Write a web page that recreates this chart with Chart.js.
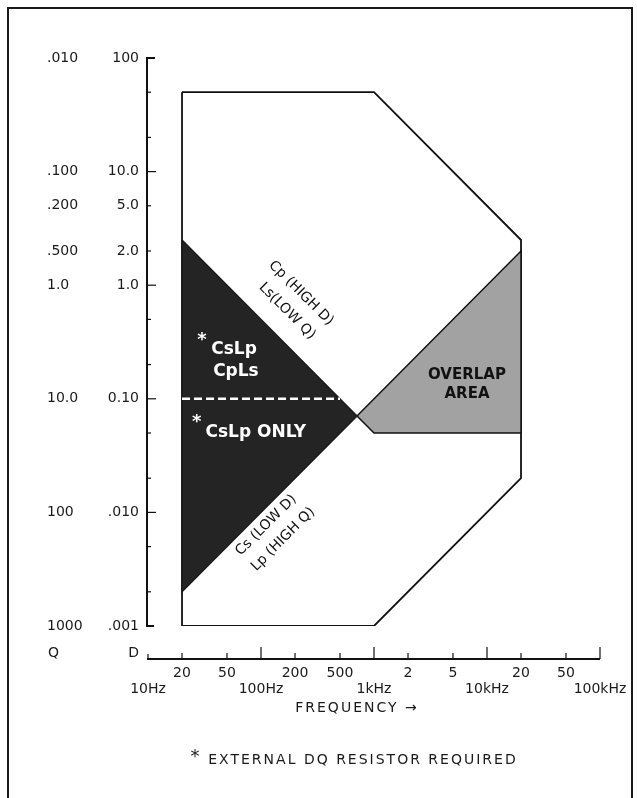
<!doctype html>
<html lang="en">
  <head>
    <meta charset="utf-8">
    <title>D / Q measurement range vs frequency</title>
    <style>
      * {
        margin: 0;
        padding: 0;
      }
      body {
        width: 637px;
        height: 798px;
        overflow: hidden;
        position: relative;
        background: #fff;
        font-family: 'DejaVu Sans', sans-serif;
      }
      .frame {
        position: absolute;
        left: 7px;
        top: 7px;
        width: 622px;
        height: 820px;
        border: 2px solid #1a1a1a;
        border-bottom: none;
      }
      .chartBox {
        position: absolute;
        left: 0;
        top: 0;
        width: 637px;
        height: 798px;
      }
    </style>
  </head>
  <body>
    <div class="frame"></div>
    <div class="chartBox">
      <canvas id="myChart"></canvas>
    </div>
    <script src="https://cdn.jsdelivr.net/npm/chart.js/dist/chart.umd.min.js"></script>
    <script>
    // frequency axis (Hz)
    const freqTicks = [10, 20, 50, 100, 200, 500, 1000, 2000, 5000, 10000, 20000, 50000, 100000];
    const freqLabels = [['', '10Hz'], '20', '50', ['', '100Hz'], '200', '500', ['', '1kHz'], '2', '5', ['', '10kHz'], '20', '50', ['', '100kHz']];

    // D axis and the matching Q column
    const dTicks = [100, 50, 20, 10, 5, 2, 1, 0.5, 0.2, 0.1, 0.05, 0.02, 0.01, 0.005, 0.002, 0.001];
    const dLabels = ['100', '', '', '10.0', '5.0', '2.0', '1.0', '', '', '0.10', '', '', '.010', '', '', '.001'];
    const qLabels = ['.010', '', '', '.100', '.200', '.500', '1.0', '', '', '10.0', '', '', '100', '', '', '1000'];

    // whole measurable range (freq Hz, D)
    const rangeFreq = [20, 1000, 20000, 20000, 1000, 20, 20];
    const rangeD = [50, 50, 2.5, 0.02, 0.001, 0.001, 50];

    // CsLp / CpLs region (external resistor)
    const seriesFreq = [20, 707, 20, 20];
    const seriesD = [2.5, 0.0707, 0.002, 2.5];

    // overlap area
    const overlapFreq = [707, 20000, 20000, 1000, 707];
    const overlapD = [0.0707, 2, 0.05, 0.05, 0.0707];

    // D = 0.10 split inside the left region
    const splitFreq = [20, 500];
    const splitD = [0.1, 0.1];

    const pts = (fs, ds) => fs.map((f, i) => ({x: f, y: ds[i]}));

    // text placed at (freq, D)
    const notes = [
      {text: '*', f: 30, d: 0.33, font: 'bold 18px "DejaVu Sans"', color: '#fff', rot: 0},
      {text: 'CsLp', f: 57.7, d: 0.272, font: 'bold 17px "DejaVu Sans"', color: '#fff', rot: 0},
      {text: 'CpLs', f: 60, d: 0.173, font: 'bold 17px "DejaVu Sans"', color: '#fff', rot: 0},
      {text: '*', f: 27, d: 0.062, font: 'bold 18px "DejaVu Sans"', color: '#fff', rot: 0},
      {text: 'CsLp ONLY', f: 90, d: 0.05, font: 'bold 17px "DejaVu Sans"', color: '#fff', rot: 0},
      {text: 'Cp (HIGH D)', f: 226, d: 0.85, font: '14px "DejaVu Sans"', color: '#111', rot: 45},
      {text: 'Ls(LOW Q)', f: 170, d: 0.59, font: '14px "DejaVu Sans"', color: '#111', rot: 45},
      {text: 'Cs (LOW D)', f: 111, d: 0.0077, font: '14px "DejaVu Sans"', color: '#111', rot: -45},
      {text: 'Lp (HIGH Q)', f: 157, d: 0.0058, font: '14px "DejaVu Sans"', color: '#111', rot: -45},
      {text: 'OVERLAP', f: 6650, d: 0.163, font: 'bold 15px "DejaVu Sans"', color: '#111', rot: 0},
      {text: 'AREA', f: 6650, d: 0.111, font: 'bold 15px "DejaVu Sans"', color: '#111', rot: 0}
    ];

    const tickFont = {family: 'DejaVu Sans', size: 14, lineHeight: 1.2};
    const isDecade = v => Math.abs(Math.log10(v) - Math.round(Math.log10(v))) < 1e-9;

    // axis lines with inward ticks, region labels, footnotes
    const decor = {
      id: 'decor',
      afterDatasetsDraw(chart) {
        const {ctx, scales: {x, y, q}} = chart;
        ctx.save();
        ctx.textAlign = 'center';
        ctx.textBaseline = 'middle';
        notes.forEach(n => {
          ctx.save();
          ctx.translate(x.getPixelForValue(n.f), y.getPixelForValue(n.d));
          ctx.rotate(n.rot * Math.PI / 180);
          ctx.font = n.font;
          ctx.fillStyle = n.color;
          ctx.fillText(n.text, 0, 0);
          ctx.restore();
        });

        const x0 = x.getPixelForValue(freqTicks[0]) - 1;
        const x1 = x.getPixelForValue(freqTicks[freqTicks.length - 1]);
        const yTop = y.getPixelForValue(dTicks[0]);
        const yBot = y.getPixelForValue(dTicks[dTicks.length - 1]);
        ctx.strokeStyle = '#111';
        ctx.lineWidth = 2;
        ctx.beginPath();
        ctx.moveTo(x0 + 8, yTop);
        ctx.lineTo(x0, yTop);
        ctx.lineTo(x0, yBot);
        ctx.lineTo(x0 + 7, yBot);
        ctx.stroke();
        ctx.lineWidth = 1.2;
        dTicks.slice(1, -1).forEach(v => {
          const py = y.getPixelForValue(v);
          ctx.beginPath();
          ctx.moveTo(x0, py);
          ctx.lineTo(x0 + (isDecade(v) ? 9 : 4), py);
          ctx.stroke();
        });

        // frequency axis sits below the plot
        const xAxisY = yBot + 33;
        ctx.lineWidth = 2;
        ctx.beginPath();
        ctx.moveTo(x0, xAxisY);
        ctx.lineTo(x1, xAxisY);
        ctx.stroke();
        ctx.lineWidth = 1.2;
        freqTicks.forEach((f, i) => {
          const px = x.getPixelForValue(f);
          const len = i === 0 ? 5 : (isDecade(f) ? 12 : 6);
          ctx.beginPath();
          ctx.moveTo(px, xAxisY);
          ctx.lineTo(px, xAxisY - len);
          ctx.stroke();
        });

        ctx.fillStyle = '#1a1a1a';
        ctx.font = '14px "DejaVu Sans"';
        ctx.textAlign = 'left';
        ctx.fillText('Q', q.left + 1, yBot + 27);
        ctx.textAlign = 'right';
        ctx.fillText('D', y.right - 9, yBot + 27);

        const cx = x.getPixelForValue(707);
        ctx.textAlign = 'center';
        ctx.letterSpacing = '2px';
        ctx.fillText('FREQUENCY \u2192', cx, yBot + 82);
        ctx.fillText('EXTERNAL DQ RESISTOR REQUIRED', cx + 6, yBot + 134);
        ctx.letterSpacing = '0px';
        ctx.font = '18px "DejaVu Sans"';
        ctx.fillText('*', cx - 162, yBot + 131);
        ctx.restore();
      }
    };

    const data = {
      datasets: [{
        label: 'D = 0.10',
        data: pts(splitFreq, splitD),
        showLine: true,
        borderColor: '#fff',
        borderWidth: 2.5,
        borderDash: [8, 4],
        pointRadius: 0,
        fill: false
      }, {
        label: 'overlap area',
        data: pts(overlapFreq, overlapD),
        showLine: true,
        borderColor: '#111',
        borderWidth: 1.5,
        backgroundColor: '#a2a2a2',
        pointRadius: 0,
        fill: 'shape'
      }, {
        label: 'CsLp CpLs',
        data: pts(seriesFreq, seriesD),
        showLine: true,
        borderColor: '#1a1a1a',
        borderWidth: 1.5,
        backgroundColor: '#242424',
        pointRadius: 0,
        fill: 'shape'
      }, {
        label: 'range',
        data: pts(rangeFreq, rangeD),
        showLine: true,
        borderColor: '#111',
        borderWidth: 1.8,
        backgroundColor: '#fff',
        pointRadius: 0,
        fill: 'shape'
      }]
    };

    const config = {
      type: 'scatter',
      data,
      options: {
        responsive: true,
        maintainAspectRatio: false,
        animation: false,
        layout: {
          padding: {left: 47, right: 37, top: 58, bottom: 72}
        },
        plugins: {
          legend: {display: false},
          tooltip: {enabled: false}
        },
        scales: {
          x: {
            type: 'logarithmic',
            min: 10,
            max: 100000,
            grid: {display: false, drawTicks: false},
            border: {display: false},
            afterBuildTicks: s => { s.ticks = freqTicks.map(v => ({value: v})); },
            afterFit: s => {
              s.height = 100;
              s.paddingLeft = 0;
              s.paddingRight = 0;
            },
            ticks: {
              autoSkip: false,
              maxRotation: 0,
              padding: 38.6,
              color: '#1a1a1a',
              font: tickFont,
              callback: (v, i) => freqLabels[i]
            }
          },
          y: {
            type: 'logarithmic',
            position: 'left',
            weight: 0,
            min: 0.001,
            max: 100,
            grid: {display: false, drawTicks: false},
            border: {display: false},
            afterBuildTicks: s => { s.ticks = dTicks.map(v => ({value: v})); },
            afterFit: s => { s.width = 61; },
            ticks: {
              autoSkip: false,
              padding: 9,
              color: '#1a1a1a',
              font: tickFont,
              callback: (v, i) => dLabels[i]
            }
          },
          q: {
            type: 'logarithmic',
            axis: 'y',
            position: 'left',
            weight: 1,
            min: 0.001,
            max: 100,
            grid: {display: false, drawTicks: false},
            border: {display: false},
            afterBuildTicks: s => { s.ticks = dTicks.map(v => ({value: v})); },
            afterFit: s => { s.width = 40; },
            ticks: {
              autoSkip: false,
              crossAlign: 'far',
              color: '#1a1a1a',
              font: tickFont,
              callback: (v, i) => qLabels[i]
            }
          }
        }
      },
      plugins: [decor]
    };

    const myChart = new Chart(
      document.getElementById('myChart'),
      config
    );
    </script>
  </body>
</html>
